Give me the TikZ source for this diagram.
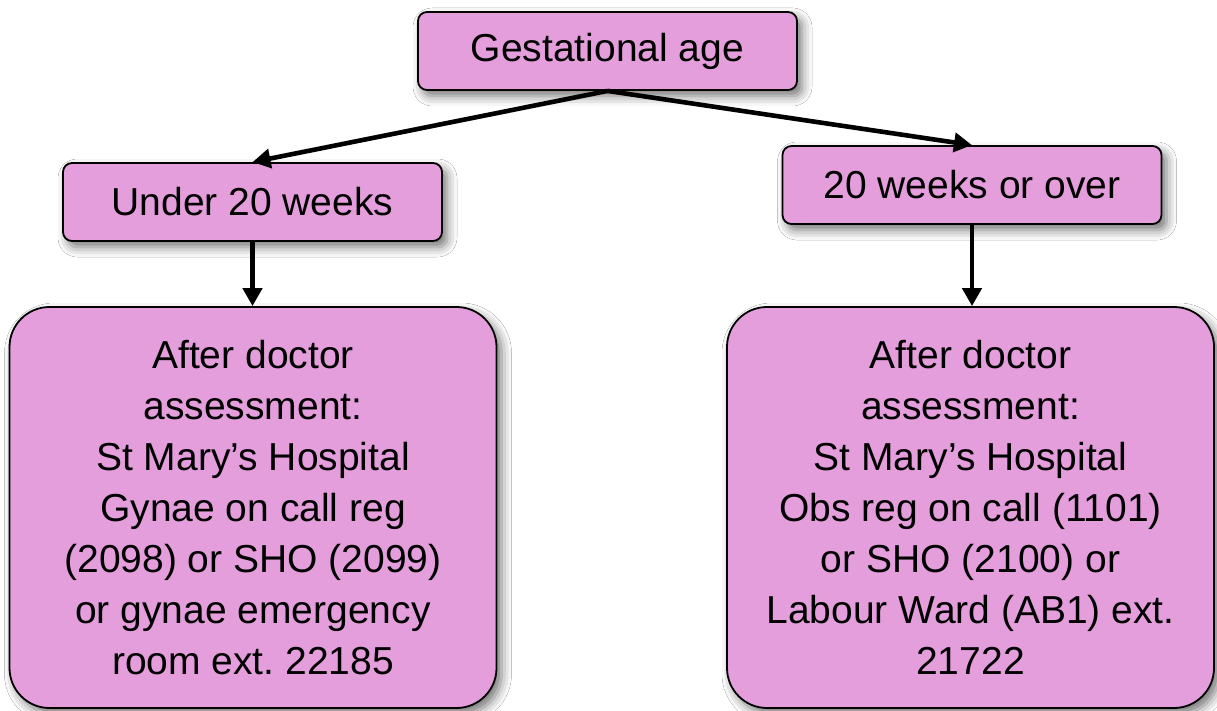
\documentclass[tikz,border=0pt]{standalone}
\usepackage{fontspec}
\setmainfont{Liberation Sans}
\frenchspacing
\usetikzlibrary{arrows.meta,shadows.blur}
\definecolor{boxpink}{HTML}{E49EDC}
\tikzset{
  boxbase/.style={draw=black, line width=1.8pt, fill=boxpink, inner sep=0pt,
    align=center, font=\fontsize{39}{51}\selectfont,
    blur shadow={shadow xshift=5pt, shadow yshift=-6pt, shadow blur radius=10pt, shadow opacity=55}},
  smallbox/.style={boxbase, rounded corners=9pt, minimum width=379pt, minimum height=78pt},
  bigbox/.style={boxbase, rounded corners=40pt, minimum width=487pt, minimum height=401pt},
  conn/.style={line width=4.6pt, -{Triangle[length=18pt,width=19pt]}}
}
\begin{document}
\begin{tikzpicture}[x=1pt,y=-1pt]
\useasboundingbox (0,0) rectangle (1217,711);
\fill[white] (0,0) rectangle (1217,711);
\node[smallbox] (top) at (607.5,51) {Gestational age};
\node[smallbox] (left) at (252.5,202) {Under 20 weeks};
\node[smallbox] (right) at (972,185) {20 weeks or over};
\node[bigbox] (bl) at (253,507.5) {After doctor\\assessment:\\St Mary’s Hospital\\Gynae on call reg\\(2098) or SHO (2099)\\or gynae emergency\\room ext. 22185};
\node[bigbox] (br) at (970.5,507.5) {After doctor\\assessment:\\St Mary’s Hospital\\Obs reg on call (1101)\\or SHO (2100) or\\Labour Ward (AB1) ext.\\21722};
\draw[conn] (top.south) -- (left.north);
\draw[conn] (top.south) -- (right.north);
\draw[conn] (left.south) -- (left.south |- bl.north);
\draw[conn] (right.south) -- (right.south |- br.north);
\end{tikzpicture}
\end{document}
